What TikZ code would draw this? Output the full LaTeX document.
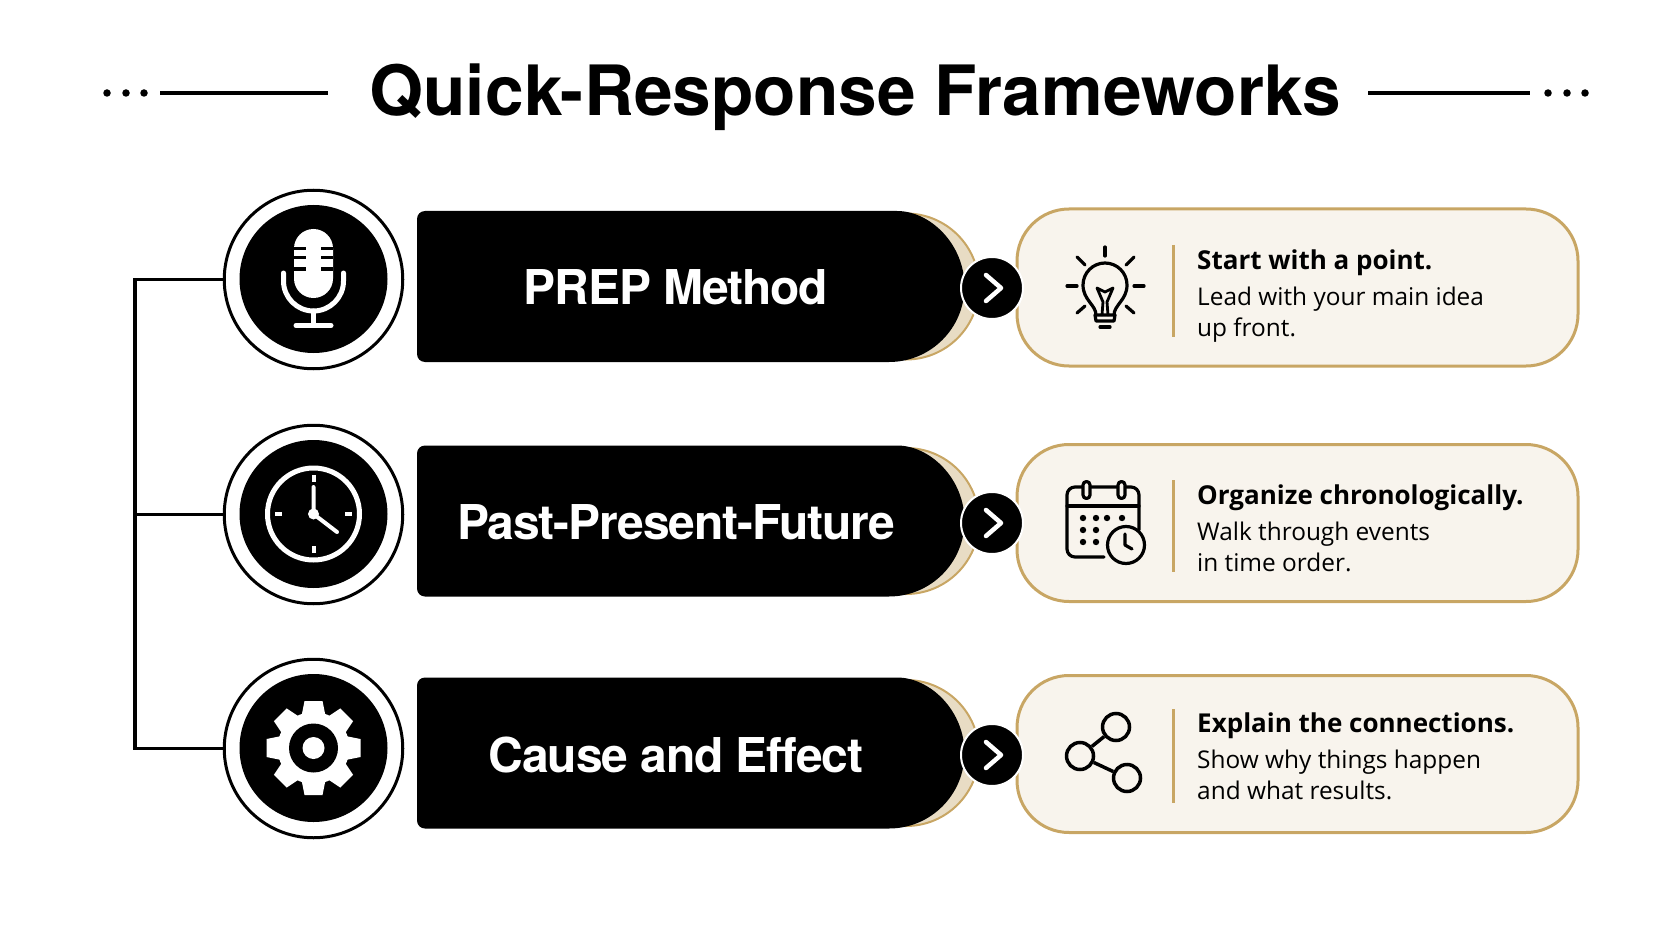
\documentclass[tikz,border=0pt]{standalone}
\usepackage{tikz}
\usepackage{fontspec}
\setmainfont{Open Sans}
\newfontfamily\headfont{TeX Gyre Heros}
\newfontfamily\barfont[LetterSpace=-2.3]{TeX Gyre Heros}
\usetikzlibrary{calc}
\definecolor{fw_tan}{RGB}{200, 166, 100}
\definecolor{fw_sand}{RGB}{232, 220, 196}
\definecolor{fw_card}{RGB}{248, 244, 237}
\tikzstyle{none}=[]
\tikzstyle{ring}=[circle,fill=white,draw=black,line width=3pt,minimum size=178.5pt,inner sep=0pt]
\tikzstyle{disc}=[circle,fill=black,minimum size=148pt,inner sep=0pt]
\tikzstyle{card}=[rectangle,rounded corners=52pt,fill=fw_card,draw=fw_tan,line width=3pt,
  minimum width=561pt,minimum height=157pt]
\tikzstyle{next}=[circle,fill=black,draw=white,line width=2pt,minimum size=62pt,inner sep=0pt]
\tikzstyle{title}=[font=\headfont\bfseries\fontsize{69.4}{80}\selectfont,anchor=base]
\tikzstyle{label}=[font=\barfont\bfseries\fontsize{48}{56}\selectfont,text=white,anchor=base]
\tikzstyle{info}=[font=\fontsize{24.4}{31}\selectfont,align=left,anchor=base west,inner sep=0pt]
\tikzstyle{wire}=[line width=3.5pt,draw=black]
\tikzstyle{icon}=[line width=3.2pt,draw=black,line cap=round,line join=round]
\tikzstyle{lite}=[line width=5pt,draw=white,line cap=round,line join=round]
\tikzstyle{dot}=[circle,fill=black,minimum size=7.5pt,inner sep=0pt]
\tikzstyle{hub}=[circle,fill=fw_card,draw=black,line width=3.5pt,minimum size=27pt,inner sep=0pt]
\newcommand{\barshape}[1]{
  \draw[fill=fw_sand,draw=fw_tan,line width=2pt] (906,#1-73) arc (-90:90:73) -- cycle;
  \fill[black] (889,#1-75.5) arc (-90:90:75.5) [rounded corners=8pt] -- (417,#1+75.5) -- (417,#1-75.5) -- cycle;
}
\newcommand{\chevron}[1]{
  \draw[line width=4.5pt,draw=white,line cap=round,line join=round] ($(#1)+(-6,-13)$) -- ($(#1)+(9,0)$) -- ($(#1)+(-6,13)$);
}
\newcommand{\lead}[1]{{\fontsize{26}{31}\selectfont\bfseries #1}}

\begin{document}
\begin{tikzpicture}[x=1pt,y=-1pt]
    \useasboundingbox (0,0) rectangle (1672,941);
    % heading
    \node [style=title] (0) at (855,116) {Quick-Response Frameworks};
    \node [style=none] (1) at (160,93) {};
    \node [style=none] (2) at (328,93) {};
    \node [style=none] (3) at (1368,93) {};
    \node [style=none] (4) at (1530,93) {};
    \draw [style=wire] (1.center) to (2.center);
    \draw [style=wire] (3.center) to (4.center);
    \node [style=dot] (5) at (107,93) {};
    \node [style=dot] (6) at (126,93) {};
    \node [style=dot] (7) at (144,93) {};
    \node [style=dot] (8) at (1548,93) {};
    \node [style=dot] (9) at (1567,93) {};
    \node [style=dot] (10) at (1585,93) {};
    % rings on the left
    \node [style=ring] (11) at (313.5,279.5) {};
    \node [style=ring] (12) at (313.5,514.5) {};
    \node [style=ring] (13) at (313.5,748.5) {};
    \node [style=disc] (14) at (313.5,279) {};
    \node [style=disc] (15) at (313.5,514) {};
    \node [style=disc] (16) at (313.5,748) {};
    \node [style=none] (17) at (135,279.5) {};
    \node [style=none] (18) at (135,514.5) {};
    \node [style=none] (19) at (135,748.5) {};
    \draw [style=wire] (11) to (17.center) to (19.center) to (13);
    \draw [style=wire] (18.center) to (12);
    % bars
    \barshape{286.5}
    \barshape{521}
    \barshape{753}
    \node [style=label] (20) at (676,304) {PREP Method};
    \node [style=label] (21) at (676,539) {Past-Present-Future};
    \node [style=label] (22) at (676,772) {Cause and Effect};
    % cards
    \node [style=card] (23) at (1297.5,287.5) {};
    \node [style=card] (24) at (1297.5,523) {};
    \node [style=card] (25) at (1297.5,754) {};
    \node [style=next] (26) at (992,288) {};
    \node [style=next] (27) at (992,523) {};
    \node [style=next] (28) at (992,755) {};
    \chevron{26}
    \chevron{27}
    \chevron{28}
    \draw [draw=fw_tan,line width=3pt] (1173,245) -- (1173,337);
    \draw [draw=fw_tan,line width=3pt] (1173,480) -- (1173,572);
    \draw [draw=fw_tan,line width=3pt] (1173,709) -- (1173,803);
    \node [style=info] (29) at (1197,336) {\lead{Start with a point.}\\[5pt]Lead with your main idea\\up front.};
    \node [style=info] (30) at (1197,571) {\lead{Organize chronologically.}\\[5pt]Walk through events\\in time order.};
    \node [style=info] (31) at (1197,799) {\lead{Explain the connections.}\\[5pt]Show why things happen\\and what results.};
    % microphone
    \fill [white] (294,248.5) arc (180:360:19.5) -- (333,278.5) arc (0:180:19.5) -- cycle;
    \draw [draw=black,line width=3pt] (294,249) -- (306,249) (321,249) -- (333,249);
    \draw [draw=black,line width=3pt] (294,258) -- (306,258) (321,258) -- (333,258);
    \draw [draw=black,line width=3pt] (294,269) -- (306,269) (321,269) -- (333,269);
    \draw [style=lite] (283.5,273) -- (283.5,281) arc (180:0:30) -- (343.5,273);
    \draw [style=lite] (313.5,311) -- (313.5,325);
    \draw [style=lite] (296,325.5) -- (331,325.5);
    % clock
    \draw [style=lite] (313.5,514) circle (46);
    \draw [draw=white,line width=4pt] (313.5,475) -- (313.5,482) (313.5,546) -- (313.5,553);
    \draw [draw=white,line width=4pt] (275,514) -- (282,514) (345,514) -- (352,514);
    \draw [draw=white,line width=4pt,line cap=round,line join=round] (313.5,487) -- (313.5,514) -- (337,532);
    \fill [white] (313.5,514) circle (5.5);
    % gear
    \fill [white] (313.5,748) circle (36);
    \foreach \a in {0,45,...,315}
      \fill [white,shift={(313.5,748)},rotate=\a] (-12,-32) -- (-9,-47) -- (9,-47) -- (12,-32) -- cycle;
    \fill [black] (313.5,748) circle (24.5);
    \fill [white] (313.5,748) circle (11);
    % bulb
    \draw [style=icon] (1096,315) .. controls (1096,305) and (1083,300) .. (1083,285) arc (180:360:22) .. controls (1127,300) and (1114,305) .. (1114,315);
    \draw [style=icon] (1095,315) -- (1115,315) -- (1114,321) -- (1096,321) -- cycle;
    \draw [style=icon] (1100,327) -- (1110,327);
    \draw [style=icon,line width=2.8pt] (1102,315) -- (1103,302) -- (1097,288) -- (1105,292) -- (1113,288) -- (1107,302) -- (1108,315);
    \draw [style=icon] (1105,247) -- (1105,256);
    \draw [style=icon] (1067,286) -- (1077,286) (1134,286) -- (1144,286);
    \draw [style=icon] (1077,257) -- (1085,265) (1134,257) -- (1126,265);
    \draw [style=icon] (1077,313) -- (1085,306) (1134,313) -- (1126,306);
    % calendar
    \draw [style=icon] (1104,557) -- (1075,557) arc (90:180:8) -- (1067,495) arc (180:270:8) -- (1131,487) arc (270:360:8) -- (1139,530);
    \draw [style=icon] (1067,506) -- (1139,506);
    \draw [style=icon,fill=fw_card] (1083,485) arc (180:360:3.5) -- (1090,495) arc (0:180:3.5) -- cycle;
    \draw [style=icon,fill=fw_card] (1118,485) arc (180:360:3.5) -- (1125,495) arc (0:180:3.5) -- cycle;
    \fill (1083,518) circle (3.2) (1096,518) circle (3.2) (1107,518) circle (3.2) (1122,518) circle (3.2);
    \fill (1083,530) circle (3.2) (1096,530) circle (3.2);
    \fill (1083,542) circle (3.2) (1096,542) circle (3.2);
    \draw [style=icon,fill=fw_card] (1126,545) circle (18.5);
    \draw [style=icon] (1125,534) -- (1125,545) -- (1132,549);
    % links
    \node [style=hub] (32) at (1116,727) {};
    \node [style=hub] (33) at (1080,756) {};
    \node [style=hub] (34) at (1127,778) {};
    \draw [draw=black,line width=3.5pt] (33) to (32);
    \draw [draw=black,line width=3.5pt] (33) to (34);
\end{tikzpicture}
\end{document}
